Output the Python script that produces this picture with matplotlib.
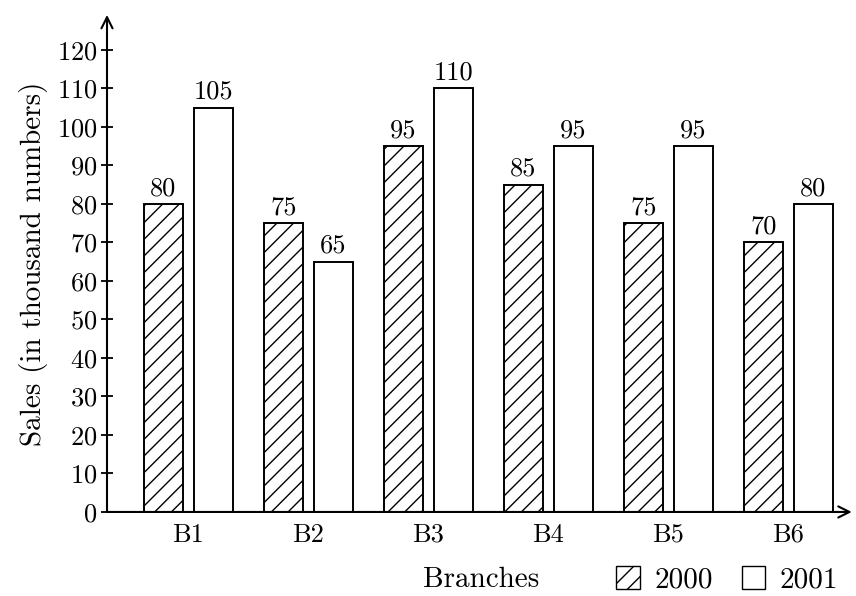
import numpy as np
import matplotlib.pyplot as plt
from matplotlib.patches import Patch

plt.rcParams['font.family'] = ['cmr10', 'DejaVu Serif']
plt.rcParams['axes.formatter.use_mathtext'] = True
plt.rcParams['hatch.linewidth'] = 1.0

branches = ["B1", "B2", "B3", "B4", "B5", "B6"]
sales_2000 = [80, 75, 95, 85, 75, 70]
sales_2001 = [105, 65, 110, 95, 95, 80]

x = np.arange(1, len(branches) + 1)
width = 0.325
off = 0.208

fig = plt.figure(figsize=(8.56, 5.96), dpi=100)
ax = fig.add_axes([0.125, 0.141, 0.87, 0.834])

b1 = ax.bar(x - off, sales_2000, width, facecolor="white", edgecolor="black",
            hatch="//", linewidth=1.4)
b2 = ax.bar(x + off, sales_2001, width, facecolor="white", edgecolor="black",
            linewidth=1.4)

for xi, v in zip(x - off, sales_2000):
    ax.text(xi, v + 1.0, str(v), ha="center", va="bottom", fontsize=19)
for xi, v in zip(x + off, sales_2001):
    ax.text(xi, v + 1.0, str(v), ha="center", va="bottom", fontsize=19)

xmin, xmax = 0.321, 6.53
ymax = 129.1
ax.set_xlim(xmin, xmax)
ax.set_ylim(0, ymax)

for s in ax.spines.values():
    s.set_visible(False)

# axes with arrow heads
ax.annotate("", xy=(xmax, 0), xytext=(xmin, 0),
            arrowprops=dict(arrowstyle="->", lw=1.5, color="black",
                            mutation_scale=20, shrinkA=0, shrinkB=0),
            annotation_clip=False)
ax.annotate("", xy=(xmin, ymax), xytext=(xmin, 0),
            arrowprops=dict(arrowstyle="->", lw=1.5, color="black",
                            mutation_scale=20, shrinkA=0, shrinkB=0),
            annotation_clip=False)

ax.set_yticks(range(0, 121, 10))
ax.tick_params(axis="y", direction="inout", length=8, width=1.3,
               labelsize=19, pad=3)
ax.set_xticks(x)
ax.set_xticklabels(branches)
ax.tick_params(axis="x", length=0, labelsize=19, pad=8)

ax.set_ylabel("Sales (in thousand numbers)", fontsize=21, labelpad=6)

fig.text(0.562, 0.027, "Branches", ha="center", va="center", fontsize=21)

handles = [Patch(facecolor="white", edgecolor="black", hatch="//", label="2000"),
           Patch(facecolor="white", edgecolor="black", label="2001")]
fig.legend(handles=handles, loc="center right", bbox_to_anchor=(1.01, 0.027),
           ncol=2, frameon=False, fontsize=21, handlelength=0.8,
           handleheight=0.8, handletextpad=0.5, columnspacing=1.0)

fig.savefig("out.png", dpi=100)
